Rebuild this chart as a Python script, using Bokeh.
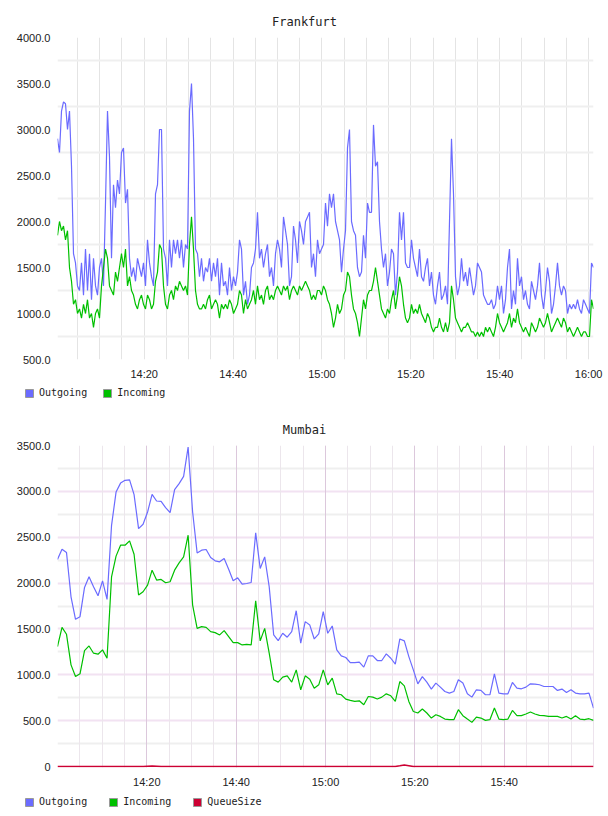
import pandas as pd
from bokeh.plotting import figure
from bokeh.layouts import column
from bokeh.models import (Range1d, FixedTicker, DatetimeTickFormatter, PrintfTickFormatter,
                          Grid, Legend, LegendItem)
from bokeh.embed import file_html
from bokeh.resources import INLINE

# ---------------- data ----------------
DAY = "2024-01-01 "

fr_title = "Frankfurt"
fr_start = "14:00:30"
fr_step_s = 27
fr_outgoing = [
    2900, 2750, 3200, 3300, 3280, 3000, 3200, 2600, 1650, 1550,
    1300, 1250, 1550, 1200, 1700, 1250, 1650, 1150, 1600, 1300,
    1200, 1500, 1600, 1300, 2200, 3200, 2700, 1600, 2400, 2150,
    2450, 2300, 2750, 2800, 2200, 2350, 1600, 1400, 1500, 1350,
    1600, 1500, 1400, 1550, 1300, 1800, 1550, 1400, 1300, 2300,
    2400, 3000, 3000, 1700, 1600, 1300, 1800, 1500, 1800, 1650,
    1800, 1600, 1800, 1500, 1750, 1700, 3200, 3500, 2900, 1700,
    1650, 1400, 1600, 1350, 1500, 1450, 1600, 1350, 1550, 1400,
    1600, 1200, 1550, 1300, 1350, 1200, 1500, 1250, 1400, 1300,
    1450, 1800, 1700, 1200, 1350, 1100, 1200, 1500, 1550, 1700,
    2100, 1600, 1700, 1500, 1650, 1750, 1400, 1500, 1300, 1650,
    1800, 1700, 1500, 2050, 1900, 1750, 1300, 1400, 1950, 1800,
    1550, 2000, 1900, 1750, 2000, 2050, 2100, 1500, 1650, 1400,
    1800, 1650, 1700, 1750, 2200, 1950, 2300, 2150, 2300, 2000,
    1900, 1800, 1450, 1700, 1900, 2800, 3000, 2000, 1900, 1850,
    1500, 1400, 1450, 1850, 1600, 2200, 2100, 2100, 3050, 2600,
    2650, 2000, 1700, 1500, 1650, 1300, 1450, 1700, 1650, 1200,
    1450, 2100, 1800, 2100, 1550, 1500, 1500, 1800, 1600, 1500,
    1400, 1700, 1400, 1350, 1500, 1600, 1300, 1450, 1200, 1100,
    1300, 1450, 1150, 1200, 1300, 1100, 2000, 2900, 2300, 1400,
    1200, 1300, 1600, 1350, 1450, 1300, 1500, 1350, 1200, 1300,
    1550, 1500, 1450, 1200, 1150, 1100, 1100, 1150, 1050, 1100,
    1300, 1150, 1300, 1000, 1150, 1500, 1700, 1050, 1250, 1100,
    1600, 1300, 1400, 1150, 1250, 1100, 1050, 1350, 1250, 1150,
    1300, 1550, 1200, 1050, 1250, 1500, 1350, 1000, 1100, 1300,
    1550, 1300, 1200, 1300, 1250, 1000, 1100, 1050, 1100, 1050,
    1150, 1050, 1000, 1150, 1100, 1050, 1000, 1550, 1500,
]
fr_incoming = [
    1850, 2000, 1900, 1950, 1800, 1900, 1500, 1350, 1100, 1150,
    1000, 1050, 950, 1100, 1000, 1150, 950, 1000, 850, 1000,
    1050, 950, 1300, 1500, 1700, 1600, 1300, 1250, 1200, 1450,
    1350, 1500, 1650, 1500, 1700, 1300, 1400, 1250, 1200, 1100,
    1050, 1150, 1200, 1100, 1050, 1200, 1150, 1050, 1100, 1350,
    1450, 1750, 1700, 1300, 1100, 1050, 1200, 1250, 1150, 1300,
    1250, 1350, 1300, 1250, 1300, 1200, 1750, 2050, 1700, 1250,
    1100, 1050, 1050, 1100, 1050, 1150, 1200, 1050, 1100, 1150,
    1100, 950, 1100, 1050, 1100, 1050, 1150, 1100, 1000, 1050,
    1100, 1250, 1200, 1000, 1150, 1050, 1100, 1150, 1250, 1100,
    1300, 1150, 1200, 1100, 1250, 1300, 1150, 1200, 1150, 1250,
    1300, 1250, 1200, 1300, 1250, 1300, 1150, 1250, 1300, 1250,
    1200, 1300, 1250, 1300, 1350, 1300, 1250, 1150, 1200, 1150,
    1250, 1250, 1200, 1300, 1250, 1150, 1100, 1000, 850, 950,
    1100, 1000, 1050, 1200, 1250, 1450, 1400, 1200, 1050, 1000,
    900, 750, 950, 1150, 1050, 1200, 1250, 1250, 1350, 1500,
    1350, 1200, 1050, 1000, 950, 1050, 1000, 1150, 1250, 1050,
    1200, 1400, 1300, 1100, 950, 900, 950, 1100, 1000, 1050,
    1000, 1100, 1000, 950, 900, 1000, 950, 850, 800, 850,
    850, 950, 850, 800, 900, 800, 900, 1300, 1150, 950,
    900, 850, 800, 850, 850, 900, 850, 800, 800, 750,
    800, 750, 800, 750, 850, 800, 850, 800, 750, 850,
    1000, 900, 850, 800, 850, 900, 1000, 850, 950, 900,
    1050, 900, 850, 800, 850, 800, 750, 900, 850, 800,
    850, 950, 900, 850, 900, 1000, 900, 800, 850, 900,
    950, 900, 850, 950, 900, 800, 850, 800, 750, 800,
    850, 800, 750, 800, 800, 750, 750, 1150, 1050,
]
fr_y_ticks = [500, 1000, 1500, 2000, 2500, 3000, 3500, 4000]
fr_x_ticks = ["14:20", "14:40", "15:00", "15:20", "15:40", "16:00"]

mu_title = "Mumbai"
mu_start = "14:00:00"
mu_step_s = 60.5
mu_outgoing = [
    2258, 2370, 2334, 1851, 1605, 1634, 1953, 2069, 1960, 1862,
    2025, 1823, 2630, 2992, 3090, 3120, 3125, 2964, 2594, 2641,
    2775, 2968, 2895, 2890, 2823, 2768, 3018, 3084, 3163, 3482,
    2775, 2329, 2359, 2366, 2279, 2243, 2232, 2268, 2152, 2025,
    2058, 1989, 1996, 2007, 2547, 2160, 2286, 1960, 1435, 1373,
    1453, 1410, 1471, 1699, 1345, 1580, 1544, 1391, 1446, 1688,
    1453, 1533, 1272, 1207, 1189, 1134, 1134, 1138, 1084, 1207,
    1207, 1156, 1156, 1228, 1181, 1116, 1391, 1370, 1199, 1054,
    902, 981, 921, 845, 910, 866, 818, 801, 818, 946,
    910, 793, 757, 837, 830, 783, 783, 1011, 801, 793,
    793, 917, 855, 848, 866, 902, 899, 892, 873, 873,
    873, 830, 845, 808, 837, 801, 793, 793, 801, 638,
]
mu_incoming = [
    1308, 1518, 1442, 1109, 981, 1011, 1264, 1315, 1236, 1225,
    1272, 1181, 2069, 2294, 2413, 2413, 2460, 2315, 1870, 1906,
    1978, 2141, 2033, 2040, 2004, 2015, 2141, 2221, 2286, 2522,
    1761, 1507, 1525, 1518, 1471, 1460, 1435, 1482, 1417, 1351,
    1351, 1326, 1333, 1326, 1808, 1370, 1507, 1236, 946, 921,
    975, 989, 921, 1054, 837, 989, 953, 855, 891, 1054,
    891, 964, 793, 783, 736, 721, 710, 717, 674, 764,
    757, 736, 757, 793, 772, 710, 927, 880, 710, 601,
    584, 627, 584, 529, 565, 547, 518, 511, 511, 620,
    555, 518, 482, 540, 529, 504, 511, 638, 518, 511,
    518, 612, 555, 555, 573, 595, 573, 558, 555, 547,
    547, 547, 529, 547, 518, 555, 518, 511, 522, 504,
]
mu_queue = [
    0, 0, 0, 0, 0, 0, 0, 0, 0, 0,
    0, 0, 0, 0, 0, 0, 0, 0, 0, 0,
    4, 6, 4, 0, 0, 0, 0, 0, 0, 0,
    0, 0, 0, 0, 0, 0, 0, 0, 0, 0,
    0, 0, 0, 0, 0, 0, 0, 0, 0, 0,
    0, 0, 0, 0, 0, 0, 0, 0, 0, 0,
    0, 0, 0, 0, 0, 0, 0, 0, 0, 0,
    0, 0, 0, 0, 0, 0, 8, 18, 10, 0,
    0, 0, 0, 0, 0, 0, 0, 0, 0, 0,
    0, 0, 0, 0, 0, 0, 0, 0, 0, 0,
    0, 0, 0, 0, 0, 0, 0, 0, 0, 0,
    0, 0, 0, 0, 0, 0, 0, 0, 0, 0,
]
mu_y_ticks = [0, 500, 1000, 1500, 2000, 2500, 3000, 3500]
mu_x_ticks = ["14:20", "14:40", "15:00", "15:20", "15:40"]

series_names = ["Outgoing", "Incoming", "QueueSize"]
series_colors = ["#6b6bff", "#00c000", "#cc0033"]

W = 608
FRAME_L, FRAME_R = 57, 15
TITLE_PX = 12


# ---------------- helpers ----------------
def times_for(start, step_s, n):
    t0 = pd.Timestamp(DAY + start)
    return [t0 + pd.Timedelta(seconds=step_s * i) for i in range(n)]


def ms(hhmm):
    return pd.Timestamp(DAY + hhmm).value // 10**6


def every(start, end, minutes):
    return [t.value // 10**6 for t in pd.date_range(DAY + start, DAY + end, freq=f"{minutes}min")]


def add_grid(p, dim, ticks, color, width=1):
    p.add_layout(Grid(dimension=dim, ticker=FixedTicker(ticks=ticks),
                      grid_line_color=color, grid_line_width=width))


def make_fig(title, times, y_lo, y_hi, y_ticks, x_ticks):
    p = figure(width=W, height=386, x_axis_type="datetime",
               output_backend="svg", toolbar_location=None,
               x_range=Range1d(times[0], times[-1]), y_range=Range1d(y_lo, y_hi),
               min_border_left=FRAME_L, min_border_right=FRAME_R,
               min_border_top=37, min_border_bottom=27)
    p.frame_align = False
    # centre the title over the whole canvas (left-aligned with a computed offset)
    text_w = len(title) * 0.602 * TITLE_PX
    p.title.text = title
    p.title.align = "left"
    p.title.offset = W / 2 - FRAME_L - text_w / 2
    p.title.standoff = 18
    p.title.text_font = "DejaVu Sans Mono"
    p.title.text_font_size = f"{TITLE_PX}px"
    p.title.text_font_style = "normal"
    p.title.text_color = "#222222"
    p.outline_line_color = None
    p.xgrid.visible = False
    p.ygrid.visible = False

    for ax in (p.xaxis[0], p.yaxis[0]):
        ax.axis_line_color = None
        ax.major_tick_line_color = None
        ax.minor_tick_line_color = None
        ax.major_tick_out = 0
        ax.major_tick_in = 0
        ax.minor_tick_out = 0
        ax.major_label_text_font = "Liberation Sans"
        ax.major_label_text_font_size = "11px"
        ax.major_label_text_color = "#222222"
    p.yaxis.ticker = FixedTicker(ticks=y_ticks)
    p.yaxis.formatter = PrintfTickFormatter(format="%.1f")
    p.yaxis.major_label_standoff = 7
    p.xaxis.ticker = FixedTicker(ticks=[ms(t) for t in x_ticks])
    p.xaxis.formatter = DatetimeTickFormatter(minutes="%H:%M", hourmin="%H:%M", hours="%H:%M")
    p.xaxis.major_label_standoff = 8
    return p


def legend_fig(n, spacing, vy):
    lf = figure(width=W, height=22, output_backend="svg", toolbar_location=None,
                x_range=Range1d(0, 1), y_range=Range1d(0, 1),
                x_axis_location=None, y_axis_location=None,
                min_border_left=0, min_border_right=0, min_border_top=0, min_border_bottom=0)
    lf.frame_align = False
    lf.outline_line_color = None
    lf.xgrid.visible = False
    lf.ygrid.visible = False
    items = []
    for name, col in zip(series_names[:n], series_colors[:n]):
        # legend swatch proxy, kept outside the visible range
        r = lf.quad(left=[5], right=[6], top=[6], bottom=[5], fill_color=col, line_color="#999999")
        items.append(LegendItem(label=name, renderers=[r]))
    lg = Legend(items=items, location=(24, vy), orientation="horizontal",
                glyph_width=10, glyph_height=10, label_height=10, label_standoff=5,
                spacing=spacing, padding=0, margin=0,
                label_text_font="DejaVu Sans Mono", label_text_font_size="10px",
                label_text_color="#222222",
                border_line_color=None, background_fill_alpha=0)
    lf.add_layout(lg)
    return lf


# ---------------- Frankfurt ----------------
fr_t = times_for(fr_start, fr_step_s, len(fr_outgoing))
p1 = make_fig(fr_title, fr_t, 500, 4000, fr_y_ticks, fr_x_ticks)
add_grid(p1, 0, every("14:05", "16:00", 5), "#e4e4e4", 1)
add_grid(p1, 1, [750, 1250, 1750, 2250, 2750, 3250, 3750], "#efefef", 2)
p1.line(fr_t, fr_outgoing, line_color=series_colors[0], line_width=1.2)
p1.line(fr_t, fr_incoming, line_color=series_colors[1], line_width=1.2)
l1 = legend_fig(2, 15, 10)

# ---------------- Mumbai ----------------
mu_t = times_for(mu_start, mu_step_s, len(mu_outgoing))
p2 = make_fig(mu_title, mu_t, -10, 3500, mu_y_ticks, mu_x_ticks)
p2.yaxis.major_label_overrides = {0: "0"}
add_grid(p2, 1, [250, 750, 1250, 1750, 2250, 2750, 3250], "#efefef", 2)
add_grid(p2, 1, [500, 1000, 1500, 2000, 2500, 3000, 3500], "#f2e2f2", 2)
add_grid(p2, 0, every("14:05", "15:55", 5), "#ece6ec", 1)
add_grid(p2, 0, every("14:20", "16:00", 20), "#dcc8dc", 1)
add_grid(p2, 0, every("14:00", "14:00", 5), "#f2d8f2", 2)
p2.line(mu_t, mu_outgoing, line_color=series_colors[0], line_width=1.2)
p2.line(mu_t, mu_incoming, line_color=series_colors[1], line_width=1.2)
p2.line(mu_t, mu_queue, line_color=series_colors[2], line_width=1.5)
l2 = legend_fig(3, 21, 9)

layout = column(p1, l1, p2, l2, spacing=0)
open("out.html", "w").write(file_html(layout, INLINE))
